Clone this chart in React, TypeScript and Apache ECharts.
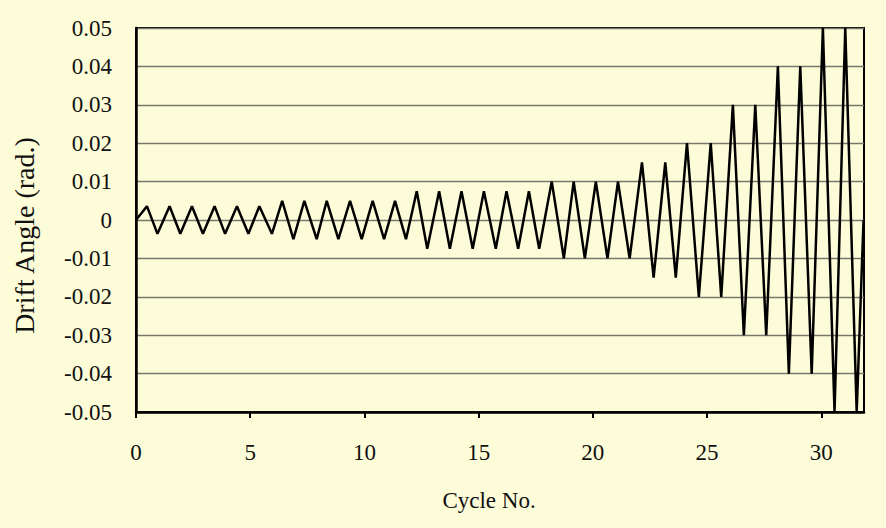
import React, { useEffect, useRef } from "react";
import * as echarts from "echarts";

// x positions (cycle no.) of each positive peak
const peakX = [
  0.48, 1.47, 2.45, 3.44, 4.42, 5.4, 6.4, 7.37, 8.35, 9.37, 10.36, 11.34,
  12.29, 13.27, 14.25, 15.23, 16.22, 17.2, 18.2, 19.16, 20.13, 21.1, 22.15,
  23.17, 24.12, 25.16, 26.13, 27.11, 28.1, 29.08, 30.07, 31.05,
];
// x positions of each negative peak
const troughX = [
  0.94, 1.94, 2.93, 3.9, 4.92, 5.95, 6.89, 7.91, 8.86, 9.88, 10.86, 11.82,
  12.75, 13.74, 14.74, 15.75, 16.73, 17.65, 18.73, 19.65, 20.64, 21.61, 22.66,
  23.63, 24.64, 25.62, 26.61, 27.59, 28.58, 29.58, 30.58, 31.55,
];
// drift angle amplitude of each cycle (rad.)
const amplitude = [
  0.0036, 0.0036, 0.0036, 0.0036, 0.0036, 0.0036,
  0.005, 0.005, 0.005, 0.005, 0.005, 0.005,
  0.0075, 0.0075, 0.0075, 0.0075, 0.0075, 0.0075,
  0.01, 0.01, 0.01, 0.01,
  0.015, 0.015,
  0.02, 0.02,
  0.03, 0.03,
  0.04, 0.04,
  0.05, 0.05,
];
const startPoint: [number, number] = [0, 0];
const endPoint: [number, number] = [31.85, 0];
const xTicks = [0, 5, 10, 15, 20, 25, 30];

const FONT = "Liberation Serif";

export default function App() {
  const ref = useRef<HTMLDivElement>(null);

  useEffect(() => {
    if (!ref.current) return;
    const chart = echarts.init(ref.current, undefined, { renderer: "svg" });

    const data: [number, number][] = [startPoint];
    for (let k = 0; k < amplitude.length; k++) {
      data.push([peakX[k], amplitude[k]]);
      data.push([troughX[k], -amplitude[k]]);
    }
    data.push(endPoint);

    chart.setOption({
      animation: false,
      backgroundColor: "#fdfcd8",
      grid: {
        left: 136,
        right: 22,
        top: 28,
        bottom: 116,
        show: true,
        borderColor: "#000",
        borderWidth: 2,
        backgroundColor: "transparent",
      },
      xAxis: {
        type: "value",
        min: 0,
        max: 31.87,
        interval: 5,
        name: "Cycle No.",
        nameLocation: "middle",
        nameGap: 77,
        nameTextStyle: {
          fontFamily: FONT,
          fontSize: 23,
          color: "#111",
          padding: [0, 22, 0, 0],
        },
        axisLine: {
          show: true,
          onZero: false,
          lineStyle: { color: "#000", width: 2.5 },
        },
        axisTick: {
          show: true,
          length: 6,
          lineStyle: { color: "#000", width: 2 },
          customValues: xTicks,
        },
        axisLabel: {
          fontFamily: FONT,
          fontSize: 23,
          color: "#111",
          margin: 29,
          customValues: xTicks,
        },
        splitLine: { show: false },
      },
      yAxis: {
        type: "value",
        min: -0.05,
        max: 0.05,
        interval: 0.01,
        name: "Drift Angle (rad.)",
        nameLocation: "middle",
        nameGap: 98,
        nameTextStyle: {
          fontFamily: FONT,
          fontSize: 28,
          color: "#111",
          padding: [0, 31, 0, 0],
        },
        axisLine: {
          show: true,
          onZero: false,
          lineStyle: { color: "#000", width: 2.5 },
        },
        axisTick: { show: false },
        axisLabel: {
          fontFamily: FONT,
          fontSize: 23,
          color: "#111",
          margin: 24,
          formatter: (v: number) => (Math.abs(v) < 1e-9 ? "0" : v.toFixed(2)),
        },
        splitLine: { show: true, lineStyle: { color: "#77776e", width: 1.3 } },
      },
      series: [
        {
          type: "line",
          data,
          symbol: "none",
          clip: true,
          lineStyle: { color: "#000", width: 2.5 },
        },
      ],
    });

    return () => chart.dispose();
  }, []);

  return (
    <div
      ref={ref}
      style={{ position: "absolute", left: 0, top: 0, width: 886, height: 528 }}
    />
  );
}
